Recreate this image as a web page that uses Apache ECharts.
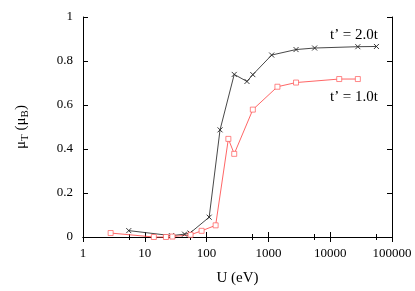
<!DOCTYPE html>
<html>
<head>
<meta charset="utf-8">
<style>html,body{margin:0;padding:0;background:#fff;}#c{width:415px;height:291px;}</style>
<script src="https://cdn.jsdelivr.net/npm/echarts@6/dist/echarts.min.js"></script>
</head>
<body>
<div id="c"></div>
<script>
// t' = 2.0t series (black, x markers)
var uBlack = [5.5, 27, 44, 54, 110, 165, 280, 450, 560, 1130, 2800, 5600, 28000, 56000];
var muBlack = [0.029, 0.006, 0.013, 0.018, 0.09, 0.487, 0.739, 0.707, 0.738, 0.827, 0.852, 0.859, 0.865, 0.866];
// t' = 1.0t series (red, square markers)
var uRed = [2.8, 14, 22, 28, 55, 83, 140, 225, 280, 560, 1400, 2800, 14000, 28000];
var muRed = [0.018, 0, 0, 0.002, 0.01, 0.028, 0.053, 0.446, 0.378, 0.579, 0.683, 0.702, 0.718, 0.718];
var xTickLabels = ['1', '10', '100', '1000', '10000', '100000'];
var yTickLabels = ['0', '0.2', '0.4', '0.6', '0.8', '1'];
var seriesLabels = ['t\u2019 = 2.0t', 't\u2019 = 1.0t'];

function pairs(xs, ys) { return xs.map(function (x, i) { return [x, ys[i]]; }); }
var FONT = 'Liberation Serif';
var chart = echarts.init(document.getElementById('c'), null, {renderer: 'canvas'});
var tickCommon = {inside: true, length: 5, lineStyle: {color: '#000', width: 1}};
var minorCommon = {show: true, splitNumber: 2, length: 3, lineStyle: {color: '#000', width: 1}};
chart.setOption({
  animation: false,
  grid: {left: 83, right: 23, top: 17, bottom: 49, containLabel: false},
  xAxis: [{
    type: 'log', logBase: 10, min: 1, max: 100000,
    name: 'U (eV)', nameLocation: 'middle', nameGap: 34,
    nameTextStyle: {fontFamily: FONT, fontSize: 15, color: '#000'},
    axisLine: {show: true, lineStyle: {color: '#000', width: 1}},
    axisTick: tickCommon,
    minorTick: minorCommon,
    splitLine: {show: false},
    axisLabel: {fontFamily: FONT, fontSize: 13, color: '#000', margin: 10,
      formatter: function (v) { var k = Math.round(Math.log(v) / Math.LN10); return xTickLabels[k] || ''; }}
  }, {
    type: 'log', logBase: 10, min: 1, max: 100000, position: 'top',
    axisLine: {show: true, lineStyle: {color: '#000', width: 1}},
    axisTick: tickCommon, minorTick: minorCommon,
    splitLine: {show: false}, axisLabel: {show: false}
  }],
  yAxis: [{
    type: 'value', min: 0, max: 1, interval: 0.2,
    name: '{a|\u03bc}{s|T}{a| (\u03bc}{s|B}{a|)}', nameLocation: 'middle', nameGap: 52,
    nameTextStyle: {fontFamily: FONT, fontSize: 15, color: '#000',
      rich: {
        a: {fontFamily: FONT, fontSize: 15, color: '#000', verticalAlign: 'middle'},
        s: {fontFamily: FONT, fontSize: 11, color: '#000', verticalAlign: 'top', padding: [9, 0, 0, 0]}
      }},
    axisLine: {show: true, lineStyle: {color: '#000', width: 1}},
    axisTick: tickCommon,
    splitLine: {show: false},
    axisLabel: {fontFamily: FONT, fontSize: 13, color: '#000', margin: 10,
      formatter: function (v) { return yTickLabels[Math.round(v / 0.2)]; }}
  }, {
    type: 'value', min: 0, max: 1, interval: 0.2, position: 'right',
    axisLine: {show: true, lineStyle: {color: '#000', width: 1}},
    axisTick: tickCommon, splitLine: {show: false}, axisLabel: {show: false}
  }],
  series: [{
    type: 'line', xAxisIndex: 0, yAxisIndex: 0, clip: false,
    data: pairs(uBlack, muBlack),
    lineStyle: {color: '#333', width: 0.9},
    symbol: 'path://M0,0L10,10M10,0L0,10', symbolSize: 5,
    itemStyle: {color: 'rgba(0,0,0,0)', borderColor: '#222', borderWidth: 0.9}
  }, {
    type: 'line', xAxisIndex: 0, yAxisIndex: 0, clip: false,
    data: pairs(uRed, muRed),
    lineStyle: {color: '#ff5555', width: 0.9},
    symbol: 'path://M0,0H10V10H0Z', symbolSize: 5,
    itemStyle: {color: '#ffffff', borderColor: '#ff5555', borderWidth: 0.7}
  }],
  graphic: [
    {type: 'text', right: 37, top: 28, style: {text: seriesLabels[0], font: '15px "Liberation Serif"', fill: '#000'}},
    {type: 'text', right: 37, top: 90, style: {text: seriesLabels[1], font: '15px "Liberation Serif"', fill: '#000'}}
  ]
});
</script>
</body>
</html>
